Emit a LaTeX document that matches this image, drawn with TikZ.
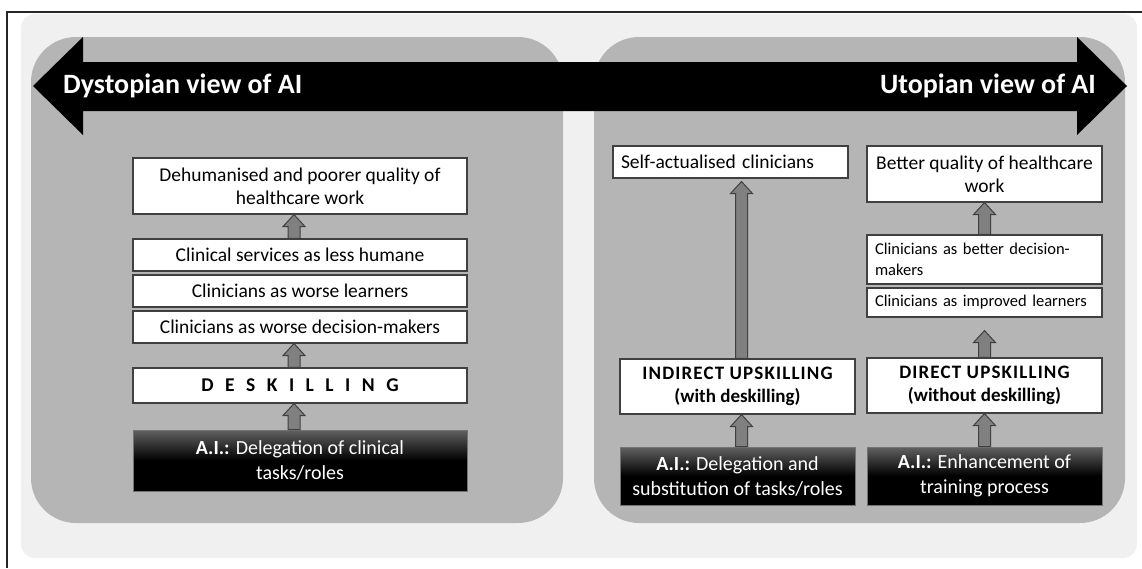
\documentclass[tikz,border=0pt]{standalone}
\usepackage{fontspec}
\setmainfont{Carlito}
\usetikzlibrary{calc}
\newcommand{\blockup}[4]{\draw[barrow] let \p1=(#1.north), \p2=(#2.south) in
 (\x1+#3-6,\y1) -- (\x1+#3-6,\y2-#4-12) -- (\x1+#3-11,\y2-#4-12) -- (\x1+#3,\y2-#4) -- (\x1+#3+11,\y2-#4-12) -- (\x1+#3+6,\y2-#4-12) -- (\x1+#3+6,\y1) -- cycle;}
\begin{document}
\begin{tikzpicture}[x=1pt,y=-1pt,
 wbox/.style={draw=black!75,line width=1.1pt,fill=white,inner sep=0pt,align=center,font=\fontsize{19.5}{23}\selectfont},
 sbox/.style={wbox,font=\fontsize{16.5}{21}\selectfont,align=left},
 aibox/.style={draw=black!55,line width=0.8pt,top color=black!62,bottom color=black,middle color=black,text=white,inner sep=0pt,align=center,font=\fontsize{20}{25}\selectfont},
 barrow/.style={fill=black!50,draw=black!75,line width=1pt},
 title/.style={text=white,font=\bfseries\fontsize{28}{32}\selectfont,inner sep=0pt}]
\useasboundingbox (0,0) rectangle (1142,568);
\fill[white] (0,0) rectangle (1142,568);
\draw[line width=1.2pt,black!85] (1142,12) -- (7,12) -- (7,568);
\fill[black!6,rounded corners=14] (21,14) rectangle (1137,558);
\fill[black!29,rounded corners=45] (31,37) rectangle (563,523);
\fill[black!29,rounded corners=45] (594,37) rectangle (1125,523);
\fill[black] (33,86) -- (83,37) -- (83,62) -- (1077,62) -- (1077,37) -- (1127,86) -- (1077,135) -- (1077,111) -- (83,111) -- (83,135) -- cycle;
\node[title,anchor=west] (dys) at (63,86) {Dystopian view of AI};
\node[title,anchor=east] (uto) at (1096,86) {Utopian view of AI};
% left column
\node[wbox,minimum width=334,minimum height=56] (n1) at (300,186) {Dehumanised and poorer quality of\\healthcare work};
\node[wbox,minimum width=334,minimum height=32] (n2) at (300,255) {Clinical services as less humane};
\node[wbox,minimum width=334,minimum height=32] (n3) at (300,291) {Clinicians as worse learners};
\node[wbox,minimum width=334,minimum height=32] (n4) at (300,327) {Clinicians as worse decision-makers};
\node[wbox,minimum width=334,minimum height=35,font=\bfseries\fontsize{19.5}{22}\selectfont] (desk) at (300,385.5) {\spaceskip=11.5pt D E S K I L L I N G};
\node[aibox,minimum width=334,minimum height=61] (ai1) at (300,460.5) {\textbf{A.I.:} Delegation of clinical\\tasks/roles};
% right column 1
\node[wbox,minimum width=235,minimum height=32,text width=219,align=left] (self) at (730.5,162) {Self-actualised clinicians};
\node[wbox,minimum width=235,minimum height=55,font=\bfseries\fontsize{19}{23}\selectfont] (ind) at (737.5,386.5) {{\addfontfeature{LetterSpace=6}INDIRECT UPSKILLING}\\(with deskilling)};
\node[aibox,minimum width=235,minimum height=58] (ai2) at (737.5,476) {\textbf{A.I.:} Delegation and\\substitution of tasks/roles};
% right column 2
\node[wbox,minimum width=235,minimum height=56] (better) at (984.5,174) {Better quality of healthcare\\work};
\node[sbox,minimum width=235,minimum height=49,text width=219] (bdm) at (984.5,259.5) {Clinicians as better decision-\\makers};
\node[sbox,minimum width=235,minimum height=29,text width=219] (impl) at (984.5,302.5) {Clinicians as improved learners};
\node[wbox,minimum width=235,minimum height=55,font=\bfseries\fontsize{19}{23}\selectfont] (dir) at (984.5,385.5) {{\addfontfeature{LetterSpace=6}DIRECT UPSKILLING}\\(without deskilling)};
\node[aibox,minimum width=235,minimum height=58] (ai3) at (984.5,476) {\textbf{A.I.:} Enhancement of\\training process};
% connectors
\blockup{n2}{n1}{-6}{0}
\blockup{desk}{n4}{-6}{0}
\blockup{ai1}{desk}{-6}{0}
\blockup{ind}{self}{4}{3}
\blockup{ai2}{ind}{4}{0}
\blockup{dir}{impl}{0}{13}
\blockup{bdm}{better}{0}{0}
\blockup{ai3}{dir}{0}{0}
\end{tikzpicture}
\end{document}
